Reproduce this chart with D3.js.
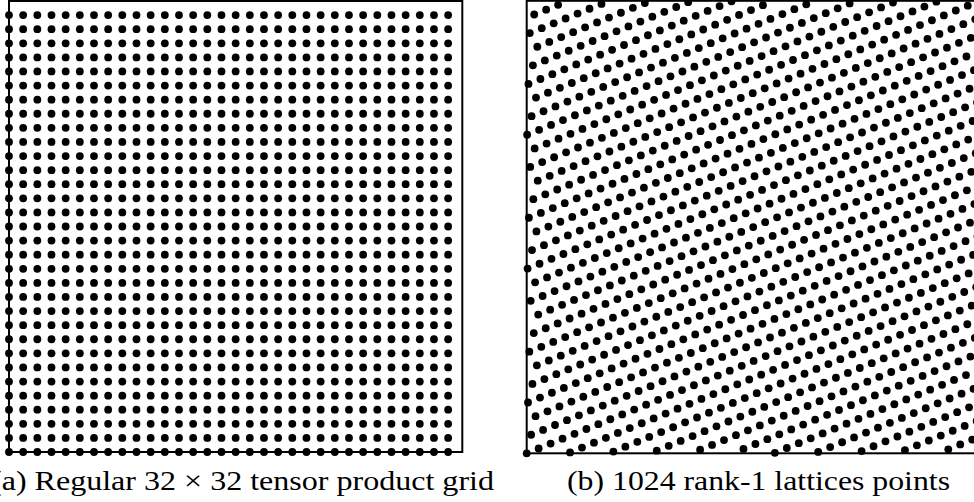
<!DOCTYPE html>
<html>
<head>
<meta charset="utf-8">
<script src="https://cdn.jsdelivr.net/npm/d3@7"></script>
<style>
  html, body { margin: 0; padding: 0; background: #fff; }
  svg { display: block; }
  .cap { font-family: "Liberation Serif", "Times New Roman", Times, serif; }
</style>
</head>
<body>
<svg id="chart" width="974" height="502"></svg>
<script>
// ---- data ----
// tensor product grid: coordinate indices along each axis (value = index / gridSize)
const gridIndices = [0,1,2,3,4,5,6,7,8,9,10,11,12,13,14,15,16,17,18,19,20,21,22,23,24,25,26,27,28,29,30,31];
const gridSize = 32;
// rank-1 lattice: N points with generating vector (1, z)
const latticeSize = 1024;
const latticeGenerator = [1, 721];
// captions
const captions = ["(a) Regular 32 \u00d7 32 tensor product grid", "(b) 1024 rank-1 lattices points"];

// ---- build point sets ----
const gridPoints = [];
gridIndices.forEach(i => gridIndices.forEach(j => gridPoints.push([i / gridSize, j / gridSize])));
const latticePoints = d3.range(latticeSize).map(k => [
  ((k * latticeGenerator[0]) % latticeSize) / latticeSize,
  ((k * latticeGenerator[1]) % latticeSize) / latticeSize
]);

const svg = d3.select("#chart");

const panels = [
  { pts: gridPoints, x0: 9, x1: 462.3, yTop: 1, yBot: 452, cap: captions[0], capX: -9, capLen: 503 },
  { pts: latticePoints, x0: 526.7, x1: 979.7, yTop: 0.8, yBot: 453.3, cap: captions[1], capX: 567, capLen: 383 }
];

panels.forEach(p => {
  const x = d3.scaleLinear().domain([0, 1]).range([p.x0, p.x1]);
  const y = d3.scaleLinear().domain([0, 1]).range([p.yBot, p.yTop]);
  const g = svg.append("g");
  g.append("rect")
    .attr("x", x(0)).attr("y", y(1))
    .attr("width", x(1) - x(0)).attr("height", y(0) - y(1))
    .attr("fill", "none").attr("stroke", "#000").attr("stroke-width", 2);
  g.selectAll("circle").data(p.pts).join("circle")
    .attr("cx", d => x(d[0]))
    .attr("cy", d => y(d[1]))
    .attr("r", 3.9)
    .attr("fill", "#000");
  svg.append("text")
    .attr("class", "cap")
    .attr("x", p.capX).attr("y", 490)
    .attr("font-size", 28)
    .attr("fill", "#000")
    .attr("textLength", p.capLen)
    .attr("lengthAdjust", "spacingAndGlyphs")
    .text(p.cap);
});
</script>
</body>
</html>
